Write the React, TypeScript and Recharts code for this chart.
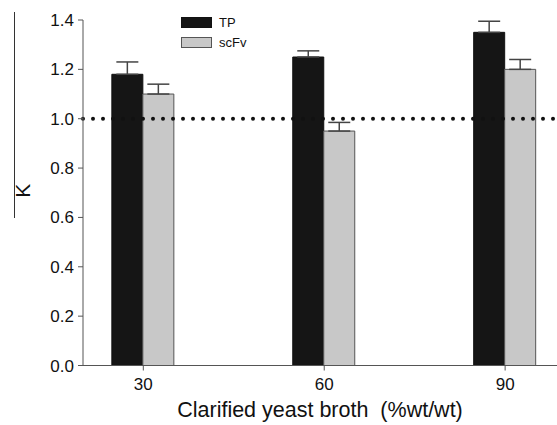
import React from 'react'
import { BarChart, Bar, XAxis, YAxis, ErrorBar, ReferenceLine } from 'recharts'

// broth concentration (%wt/wt)
const broth = [30, 60, 90]
const tpK = [1.18, 1.25, 1.35]
const tpErr = [0.05, 0.025, 0.045]
const scfvK = [1.1, 0.95, 1.2]
const scfvErr = [0.04, 0.035, 0.04]
const yTicks = [0, 0.2, 0.4, 0.6, 0.8, 1.0, 1.2, 1.4]

const data = broth.map((b, i) => ({
  broth: b,
  tp: tpK[i],
  tpErr: [0, tpErr[i]],
  scfv: scfvK[i],
  scfvErr: [0, scfvErr[i]],
}))

const font = '"Liberation Sans", Arial, sans-serif'

function KLabel(props: any) {
  const vb = props.viewBox || {}
  const cx = 22
  const cy = vb.y + vb.height / 2 - 2
  return (
    <g>
      <line x1={14.5} x2={14.5} y1={12} y2={218} stroke="#333" strokeWidth={1} />
      <text
        x={cx}
        y={cy}
        transform={`rotate(-90, ${cx}, ${cy})`}
        textAnchor="middle"
        dominantBaseline="central"
        fontSize={21}
        fontFamily={font}
        fill="#111"
      >
        K
      </text>
    </g>
  )
}

function LegendBox() {
  const items = [
    { name: 'TP', fill: '#151515', stroke: '#111' },
    { name: 'scFv', fill: '#c8c8c8', stroke: '#555' },
  ]
  return (
    <div style={{ position: 'absolute', left: 181, top: 12, fontFamily: font, fontSize: 13, color: '#111' }}>
      {items.map((it) => (
        <div key={it.name} style={{ display: 'flex', alignItems: 'center', height: 20 }}>
          <div style={{ width: 29, height: 9, background: it.fill, border: `1px solid ${it.stroke}`, marginRight: 7 }} />
          <span>{it.name}</span>
        </div>
      ))}
    </div>
  )
}

export default function App() {
  return (
    <div style={{ position: 'absolute', left: 0, top: 0, width: 557, height: 425, background: '#fff' }}>
      <BarChart
        width={557}
        height={425}
        data={data}
        margin={{ top: 20, right: 0, left: 0, bottom: 0 }}
        barGap={0}
      >
        <XAxis
          dataKey="broth"
          type="number"
          domain={[20, 98.6]}
          ticks={broth}
          allowDataOverflow
          height={59.5}
          axisLine={{ stroke: '#555' }}
          tickLine={{ stroke: '#555' }}
          tickSize={5}
          tickMargin={7}
          tick={{ fill: '#111', fontSize: 17, fontFamily: font }}
          label={{ value: 'Clarified yeast broth\u00a0 (%wt/wt)', position: 'insideBottom', offset: 8.5, fill: '#111', fontSize: 21.5, fontFamily: font }}
        />
        <YAxis
          domain={[0, 1.4]}
          ticks={yTicks}
          width={83}
          axisLine={{ stroke: '#555' }}
          tickLine={{ stroke: '#555' }}
          tickSize={5}
          tickMargin={4}
          tickFormatter={(v: number) => v.toFixed(1)}
          tick={{ fill: '#111', fontSize: 17, fontFamily: font }}
          label={<KLabel />}
        />
        <Bar dataKey="tp" name="TP" fill="#151515" stroke="#111" barSize={31} isAnimationActive={false}>
          <ErrorBar dataKey="tpErr" width={11} stroke="#444" strokeWidth={1.5} direction="y" />
        </Bar>
        <Bar dataKey="scfv" name="scFv" fill="#c8c8c8" stroke="#555" barSize={31} isAnimationActive={false}>
          <ErrorBar dataKey="scfvErr" width={11} stroke="#444" strokeWidth={1.5} direction="y" />
        </Bar>
        <ReferenceLine
          y={1.0}
          stroke="#111"
          strokeWidth={4}
          strokeDasharray="0 10"
          strokeLinecap="round"
        />
      </BarChart>
      <LegendBox />
    </div>
  )
}
